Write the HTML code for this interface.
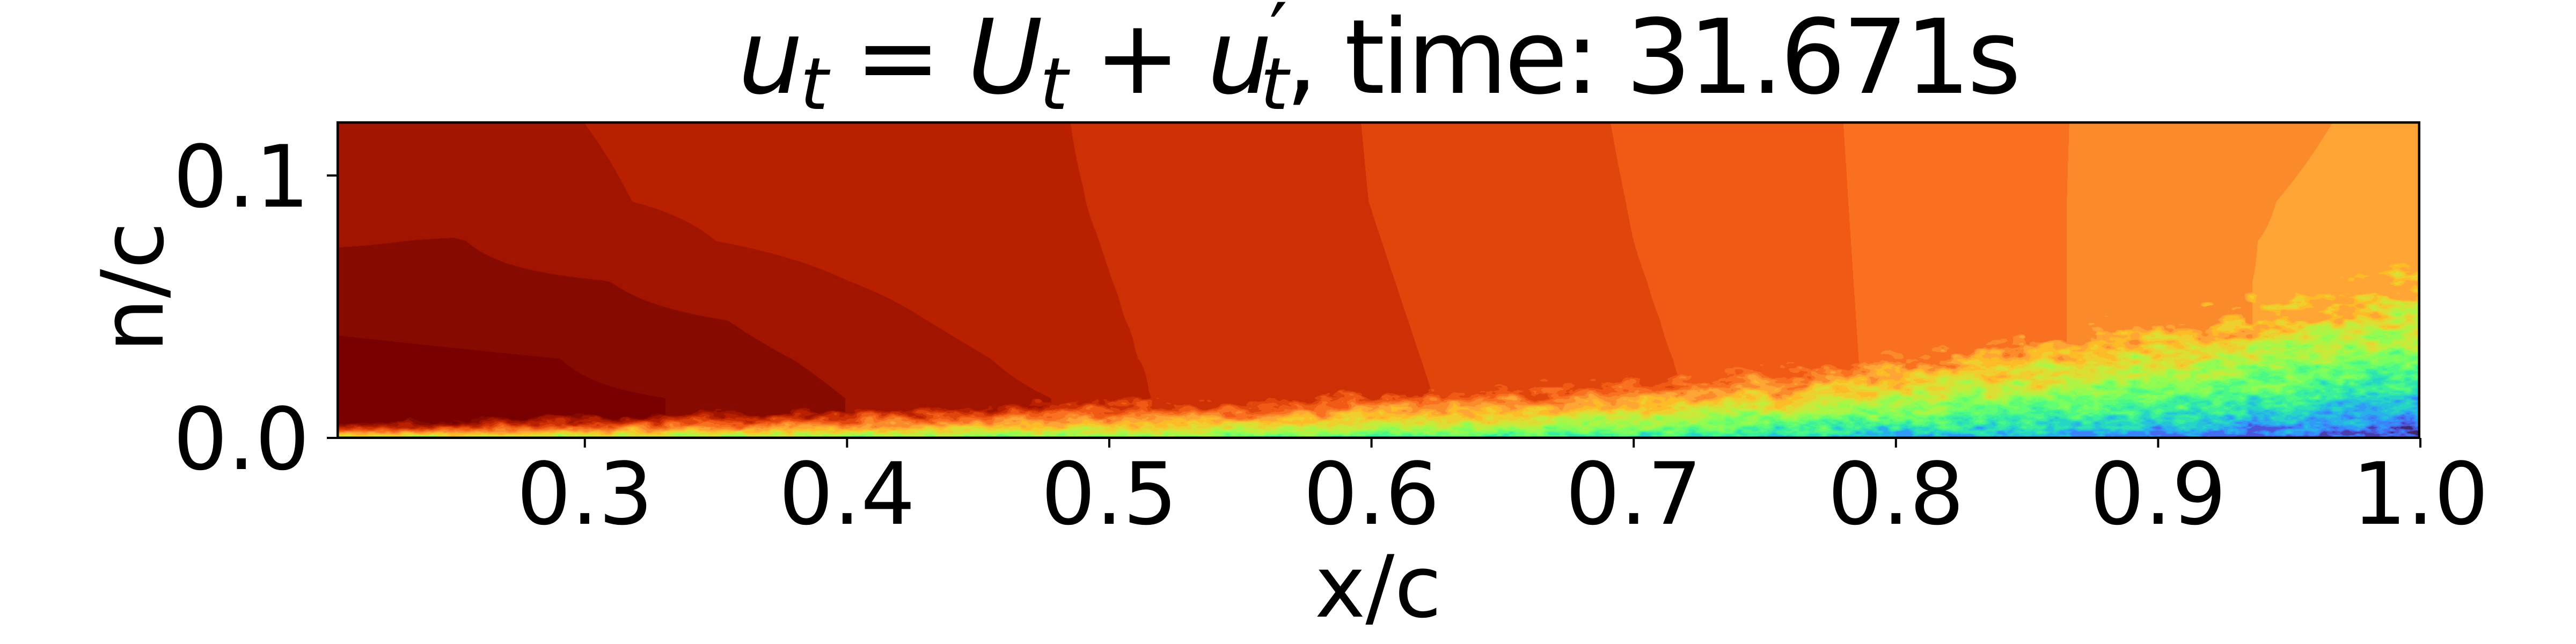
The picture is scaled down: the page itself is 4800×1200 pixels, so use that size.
<!DOCTYPE html>
<html><head><meta charset="utf-8">
<style>
html,body{margin:0;padding:0;background:#fff;}
#wrap{position:relative;width:4800px;height:1200px;overflow:hidden;background:#fff;}
#field{position:absolute;left:0;top:0;}
#ov{position:absolute;left:0;top:0;}
text{font-family:"DejaVu Sans","Liberation Sans",sans-serif;fill:#000;}
</style></head>
<body>
<div id="wrap">
<canvas id="field" width="4800" height="1200"></canvas>
<svg id="ov" width="4800" height="1200">
  <g id="ticks"></g>
  <text x="1375" y="173" font-size="192" textLength="2391" lengthAdjust="spacing"><tspan font-style="italic">u</tspan><tspan font-style="italic" font-size="134" dy="30">t</tspan><tspan dy="-30"> = </tspan><tspan font-style="italic">U</tspan><tspan font-style="italic" font-size="134" dy="30">t</tspan><tspan dy="-30"> + </tspan><tspan font-style="italic">u</tspan><tspan font-size="150" dy="-60">′</tspan><tspan font-style="italic" font-size="134" dx="-45" dy="90">t</tspan><tspan dy="-30">, time: 31.671s</tspan></text>
  <text x="2568" y="1149" font-size="160" text-anchor="middle">x/c</text>
  <text x="303" y="535" font-size="160" text-anchor="middle" transform="rotate(-90 303 535)">n/c</text>
  <rect x="629.25" y="228.25" width="3878.5" height="587.5" fill="none" stroke="#000" stroke-width="4.5"/>
</svg>
</div>
<script>
// ---- data ----
const xTicks = [0.3,0.4,0.5,0.6,0.7,0.8,0.9,1.0];
const xTickLabels = ["0.3","0.4","0.5","0.6","0.7","0.8","0.9","1.0"];
const yTicks = [0.0,0.1];
const yTickLabels = ["0.0","0.1"];
// freestream field: per row (n/c), anchor x positions and normalized velocity values
const rowYs = [0.015,0.03,0.045,0.06,0.075,0.09,0.121];
const row015X = [0.205,0.33,0.40,0.478,0.515,0.625,0.72,0.786,0.866,0.936,1.0];
const row015V = [0.985,0.967,0.933,0.9,0.867,0.833,0.8,0.767,0.733,0.7,0.685];
const row030X = [0.205,0.29,0.38,0.455,0.51,0.62,0.715,0.785,0.866,0.936,1.0];
const row030V = [0.98,0.967,0.933,0.9,0.867,0.833,0.8,0.767,0.733,0.7,0.685];
const row045X = [0.205,0.355,0.43,0.505,0.615,0.71,0.784,0.866,0.936,1.0];
const row045V = [0.958,0.933,0.9,0.867,0.833,0.8,0.767,0.733,0.7,0.685];
const row060X = [0.205,0.31,0.40,0.50,0.61,0.705,0.783,0.866,0.936,1.0];
const row060V = [0.945,0.933,0.9,0.867,0.833,0.8,0.767,0.733,0.7,0.685];
const row075X = [0.205,0.25,0.35,0.495,0.605,0.70,0.782,0.866,0.938,1.0];
const row075V = [0.931,0.935,0.9,0.867,0.833,0.8,0.767,0.733,0.7,0.685];
const row090X = [0.205,0.318,0.49,0.60,0.697,0.781,0.866,0.945,1.0];
const row090V = [0.925,0.9,0.867,0.833,0.8,0.767,0.733,0.7,0.685];
const row121X = [0.205,0.299,0.484,0.597,0.691,0.779,0.867,0.967,1.0];
const row121V = [0.92,0.9,0.867,0.833,0.8,0.767,0.733,0.7,0.69];
// boundary layer
const blX = [0.205,0.3,0.4,0.5,0.6,0.7,0.75,0.8,0.85,0.9,0.95,1.0];
const blThickness = [0.006,0.008,0.011,0.013,0.016,0.02,0.024,0.03,0.035,0.042,0.049,0.058];
const blWallValue = [0.5,0.46,0.42,0.4,0.36,0.3,0.26,0.2,0.17,0.13,0.08,0.02];

// ---- axes ----
const X0=629, X1=4510, XMIN=0.2057, XMAX=1.0;
const Y0=816, YPX=4890;
const sx = v => X0 + (v-XMIN)/(XMAX-XMIN)*(X1-X0);
const sy = v => Y0 - v*YPX;
const invx = p => XMIN + (p-X0)/(X1-X0)*(XMAX-XMIN);
const invy = p => (Y0-p)/YPX;

const NS="http://www.w3.org/2000/svg";
const tg=document.getElementById('ticks');
xTicks.forEach((v,i)=>{
  const l=document.createElementNS(NS,'line');
  l.setAttribute('x1',sx(v));l.setAttribute('x2',sx(v));l.setAttribute('y1',816);l.setAttribute('y2',834);
  l.setAttribute('stroke','#000');l.setAttribute('stroke-width','4');
  
  
  tg.appendChild(l);
  const t=document.createElementNS(NS,'text');
  t.setAttribute('x',sx(v));t.setAttribute('y',976);t.setAttribute('font-size','160');t.setAttribute('text-anchor','middle');
  t.textContent=xTickLabels[i];
  
  
  tg.appendChild(t);
});
yTicks.forEach((v,i)=>{
  const l=document.createElementNS(NS,'line');
  l.setAttribute('x1',609);l.setAttribute('x2',629);l.setAttribute('y1',sy(v));l.setAttribute('y2',sy(v));
  l.setAttribute('stroke','#000');l.setAttribute('stroke-width','4');
  
  
  tg.appendChild(l);
  const t=document.createElementNS(NS,'text');
  t.setAttribute('x',577);t.setAttribute('y',sy(v)+58);t.setAttribute('font-size','160');t.setAttribute('text-anchor','end');
  t.textContent=yTickLabels[i];
  
  
  tg.appendChild(t);
});

// ---- field rendering ----
function interp1(xs,ys,x){
  if(x<=xs[0])return ys[0];
  for(let i=1;i<xs.length;i++){ if(x<=xs[i]){const f=(x-xs[i-1])/(xs[i]-xs[i-1]);return ys[i-1]+f*(ys[i]-ys[i-1]);} }
  return ys[ys.length-1];
}
const rowXs=[row015X,row030X,row045X,row060X,row075X,row090X,row121X];
const rowVs=[row015V,row030V,row045V,row060V,row075V,row090V,row121V];
function freestream(x,y){
  const vals=rowXs.map((rx,i)=>interp1(rx,rowVs[i],x));
  return interp1(rowYs,vals,y);
}
function turbo(t){
  t=Math.max(0,Math.min(1,t));
  const r=0.13572138+t*(4.61539260+t*(-42.66032258+t*(132.13108234+t*(-152.94239396+t*59.28637943))));
  const g=0.09140261+t*(2.19418839+t*(4.84296658+t*(-14.18503333+t*(4.27729857+t*2.82956604))));
  const b=0.10667330+t*(12.64194608+t*(-60.58204836+t*(110.36276771+t*(-89.90310912+t*27.34824973))));
  return [Math.max(0,Math.min(255,r*255)),Math.max(0,Math.min(255,g*255)),Math.max(0,Math.min(255,b*255))];
}
// deterministic texture noise
function hash(i,j){let h=(i*374761393+j*668265263)|0;h=(h^(h>>>13))*1274126177|0;return ((h^(h>>>16))>>>0)/4294967295;}
function vnoise(x,y){
  const xi=Math.floor(x),yi=Math.floor(y),fx=x-xi,fy=y-yi;
  const u=fx*fx*(3-2*fx),v=fy*fy*(3-2*fy);
  const a=hash(xi,yi),b=hash(xi+1,yi),c=hash(xi,yi+1),d=hash(xi+1,yi+1);
  return a+(b-a)*u+(c-a)*v+(a-b-c+d)*u*v;
}
function fbm(x,y){return 0.6*vnoise(x,y)+0.3*vnoise(x*2.1+17,y*2.1+5)+0.1*vnoise(x*4.3+3,y*4.3+41);}

const cv=document.getElementById('field');
const ctx=cv.getContext('2d');
const px0=631,px1=4506,py0=230,py1=814;
const W=px1-px0,H=py1-py0;
const img=ctx.createImageData(W,H);
const NL=30;
const lut=[];for(let k=0;k<NL;k++)lut.push(turbo((k+0.85)/NL));
// upper bands: colours matched to the reference palette
const topBandHex=["#ffa535","#fb8a2a","#f87020","#f05a14","#e0460c","#cc3004","#b82000","#a01400","#870a00","#780000"];
topBandHex.forEach((h,i)=>{lut[20+i]=[parseInt(h.slice(1,3),16),parseInt(h.slice(3,5),16),parseInt(h.slice(5,7),16)];});
for(let j=0;j<H;j++){
  const y=invy(py0+j+0.5);
  for(let i=0;i<W;i++){
    const x=invx(px0+i+0.5);
    let v=freestream(x,y);
    const d=interp1(blX,blThickness,x);
    const n1=fbm(x*110,y*260);
    const dd=d*(0.7+0.65*n1);
    if(y<dd){
      const w=interp1(blX,blWallValue,x);
      const n2=fbm(x*220+11,y*520+7);
      let eta=Math.max(0,Math.min(1,y/dd+0.35*(n2-0.5)));
      v=w+(v-w)*Math.pow(eta,0.7);
    }
    let k=Math.floor(v*NL);if(k<0)k=0;if(k>=NL)k=NL-1;
    const c=lut[k];const o=(j*W+i)*4;
    img.data[o]=c[0];img.data[o+1]=c[1];img.data[o+2]=c[2];img.data[o+3]=255;
  }
}
ctx.putImageData(img,px0,py0);
</script>
</body></html>
